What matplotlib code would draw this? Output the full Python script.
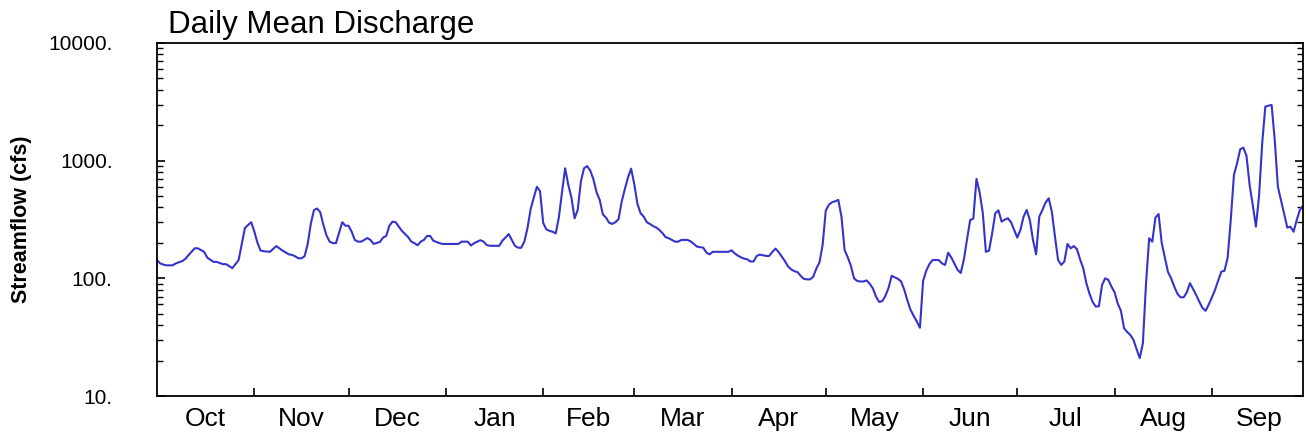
import numpy as np
import matplotlib
matplotlib.use('Agg')
import matplotlib.pyplot as plt
from matplotlib.ticker import FixedLocator, NullFormatter, FixedFormatter, FuncFormatter, LogLocator

plt.rcParams['font.family'] = ['Liberation Sans', 'DejaVu Sans']

months = ['Oct', 'Nov', 'Dec', 'Jan', 'Feb', 'Mar', 'Apr', 'May', 'Jun', 'Jul', 'Aug', 'Sep']
month_days = [31, 30, 31, 31, 29, 31, 30, 31, 30, 31, 31, 30]
y_ticks = [10, 100, 1000, 10000]

q_oct = [143, 134, 131, 129, 129, 129, 134, 137, 140, 146, 157, 168, 180, 180, 174, 168,
         150, 144, 138, 138, 135, 132, 132, 127, 122, 132, 143, 196, 268, 284, 300]
q_nov = [250, 200, 172, 170, 169, 168, 178, 188, 180, 172, 166, 160, 158, 154, 148, 148,
         154, 196, 292, 381, 392, 364, 284, 231, 205, 199, 199, 244, 300, 280]
q_dec = [280, 249, 212, 205, 205, 212, 220, 212, 196, 200, 204, 222, 229, 280, 303, 300,
         275, 253, 238, 224, 205, 199, 191, 205, 212, 229, 229, 209, 204, 199, 196]
q_jan = [196, 196, 196, 196, 196, 205, 205, 205, 190, 199, 205, 211, 205, 192, 189, 189,
         189, 189, 209, 222, 238, 212, 189, 182, 182, 205, 267, 387, 485, 600, 550]
q_feb = [296, 261, 253, 249, 241, 330, 542, 861, 622, 485, 324, 381, 664, 861, 900, 822,
         695, 539, 464, 350, 328, 297, 290, 300, 318, 449, 572, 718, 855]
q_mar = [634, 432, 358, 335, 300, 290, 278, 270, 258, 242, 224, 219, 212, 205, 205, 212,
         212, 212, 206, 196, 186, 184, 182, 165, 160, 168, 168, 168, 168, 168, 168]
q_apr = [173, 163, 156, 151, 147, 145, 139, 139, 155, 159, 157, 155, 155, 168, 179, 167,
         153, 140, 126, 119, 115, 113, 105, 99, 98, 98, 103, 121, 137, 192]
q_may = [376, 423, 443, 452, 464, 334, 174, 151, 128, 100, 95, 94, 94, 96, 90, 82,
         70, 63, 64, 71, 83, 105, 102, 99, 94, 80, 65, 54, 48, 43, 38]
q_jun = [95, 116, 132, 143, 143, 143, 134, 130, 165, 150, 133, 118, 111, 145, 215, 313,
         322, 700, 539, 362, 168, 172, 242, 358, 378, 303, 315, 324, 300, 258]
q_jul = [222, 258, 334, 381, 313, 212, 160, 334, 381, 440, 479, 369, 226, 143, 130, 139,
         196, 180, 188, 177, 145, 122, 91, 74, 63, 57.5, 58, 88, 100, 97, 85]
q_aug = [76, 61, 53, 37.7, 35, 33, 30, 25, 21, 28, 90, 219, 205, 328, 352, 200,
         150, 113, 100, 85, 74, 69, 69, 76, 91, 81, 72, 63, 56, 53, 60]
q_sep = [69, 80, 96, 114, 116, 150, 315, 756, 950, 1250, 1291, 1100, 620, 420, 275, 500,
         1400, 2880, 2930, 2980, 1500, 600, 460, 350, 270, 275, 249, 313, 381, 415]

flow = (q_oct + q_nov + q_dec + q_jan + q_feb + q_mar + q_apr + q_may +
        q_jun + q_jul + q_aug + q_sep)
days = np.arange(len(flow))

W, H = 1306, 437
fig = plt.figure(figsize=(W / 100, H / 100), dpi=100)
ax = fig.add_axes([157 / W, 41 / H, 1146 / W, 353 / H])
ax.plot(days, flow, color='#3434cc', lw=1.5)

ax.set_yscale('log')
ax.set_ylim(10, 10000)
ax.set_xlim(0, len(flow) - 1)

bounds = np.cumsum([0] + month_days)
ax.xaxis.set_major_locator(FixedLocator(bounds[1:-1]))
ax.xaxis.set_major_formatter(NullFormatter())
mids = (bounds[:-1] + bounds[1:]) / 2
ax.xaxis.set_minor_locator(FixedLocator(mids))
ax.xaxis.set_minor_formatter(FixedFormatter(months))
ax.tick_params(axis='x', which='major', direction='in', length=6, width=1.2,
               top=False, bottom=True)
ax.tick_params(axis='x', which='minor', length=0, pad=8, labelsize=19)

ax.yaxis.set_major_locator(FixedLocator(y_ticks))
ax.yaxis.set_major_formatter(FuncFormatter(lambda v, p: f'{int(round(v))}.'))
ax.yaxis.set_minor_locator(LogLocator(base=10, subs=np.arange(2, 10)))
ax.yaxis.set_minor_formatter(NullFormatter())
ax.tick_params(axis='y', which='both', direction='in', left=True, right=True,
               labelsize=15, pad=32)
ax.tick_params(axis='y', which='major', length=6, width=1.2)
ax.tick_params(axis='y', which='minor', length=4.5, width=1.0)

for s in ax.spines.values():
    s.set_linewidth(1.3)
    s.set_color('black')

fig.text(168 / W, 1 - 33 / H, 'Daily Mean Discharge', fontsize=22.5,
         ha='left', va='baseline')
fig.text(22 / W, 1 - 219 / H, 'Streamflow (cfs)', fontsize=15.5, fontweight='bold',
         rotation=90, ha='center', va='center')

fig.savefig('out.png', dpi=100)
